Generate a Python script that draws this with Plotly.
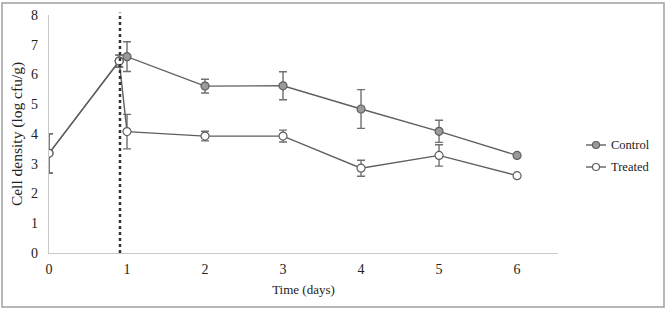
import plotly.graph_objects as go

days = [0, 0.9, 1, 2, 3, 4, 5, 6]
control = [3.35, 6.45, 6.60, 5.61, 5.62, 4.84, 4.09, 3.28]
control_err = [0.66, 0.20, 0.50, 0.23, 0.47, 0.65, 0.37, 0]
treated = [3.35, 6.45, 4.08, 3.93, 3.93, 2.85, 3.28, 2.60]
treated_err = [0.66, 0.20, 0.58, 0.16, 0.20, 0.27, 0.36, 0]
x_ticks = [0, 1, 2, 3, 4, 5, 6]
y_ticks = [0, 1, 2, 3, 4, 5, 6, 7, 8]
treatment_day = 0.91
series_names = ["Control", "Treated"]
series_fills = ["#9b9b9b", "white"]

LINE = "#5f5f5f"
FONT = "Liberation Serif"
W, H = 666, 310
L, R, T, B = 49, 108, 15, 57
PW, PH = W - L - R, H - T - B


def px(xp):
    return (xp - L) / PW


def py(yp):
    return (H - B - yp) / PH


fig = go.Figure()
for name, ys, err, fill in [("Control", control, control_err, series_fills[0]),
                            ("Treated", treated, treated_err, series_fills[1])]:
    fig.add_trace(go.Scatter(
        x=days, y=ys, name=name, mode="lines+markers",
        line=dict(color=LINE, width=1.4),
        marker=dict(size=8, color=fill, line=dict(color=LINE, width=1.2)),
        error_y=dict(type="data", array=err, color="#707070", thickness=1.4, width=4),
    ))

fig.add_shape(type="line", xref="x", yref="paper", x0=treatment_day, x1=treatment_day,
              y0=0, y1=1.01, line=dict(color="#333333", width=2.5, dash="dot"))
fig.add_shape(type="rect", xref="paper", yref="paper", x0=px(2), x1=px(664), y0=py(307), y1=py(3),
              line=dict(color="#a0a0a0", width=1.5), fillcolor="rgba(0,0,0,0)", layer="below")

# manual legend
for i, (name, fill) in enumerate(zip(series_names, series_fills)):
    yc = 145 + i * 22
    fig.add_shape(type="line", xref="paper", yref="paper", x0=px(586), x1=px(606),
                  y0=py(yc), y1=py(yc), line=dict(color=LINE, width=1.4))
    fig.add_shape(type="circle", xref="paper", yref="paper", x0=px(592.5), x1=px(599.5),
                  y0=py(yc + 3.5), y1=py(yc - 3.5), fillcolor=fill, line=dict(color=LINE, width=1.2))
    fig.add_annotation(x=px(609), y=py(yc), xref="paper", yref="paper", text=name,
                       showarrow=False, xanchor="left", yanchor="middle",
                       font=dict(family=FONT, size=12.5, color="#222222"))

fig.update_layout(
    width=W, height=H,
    margin=dict(l=L, r=R, t=T, b=B),
    paper_bgcolor="white", plot_bgcolor="white",
    font=dict(family=FONT, size=13, color="#222222"),
    showlegend=False,
    xaxis=dict(range=[0, 6.525], tickvals=x_ticks, showgrid=False, zeroline=False, automargin=False,
               showline=True, linecolor="#c8c8c8", linewidth=1.2, ticks="",
               tickfont=dict(family=FONT, size=14), ticklabelstandoff=3,
               title=dict(text="Time (days)", font=dict(family=FONT, size=13), standoff=8)),
    yaxis=dict(range=[0, 8], tickvals=y_ticks, showgrid=False, zeroline=False, automargin=False,
               showline=True, linecolor="#c8c8c8", linewidth=1.2, ticks="",
               tickfont=dict(family=FONT, size=14), ticklabelstandoff=7,
               title=dict(text="Cell density (log cfu/g)", font=dict(family=FONT, size=15.5), standoff=4)),
)

fig.write_html("out.html", config={"displayModeBar": False},
               post_script="document.body.style.margin='0';document.body.style.overflow='hidden';")
